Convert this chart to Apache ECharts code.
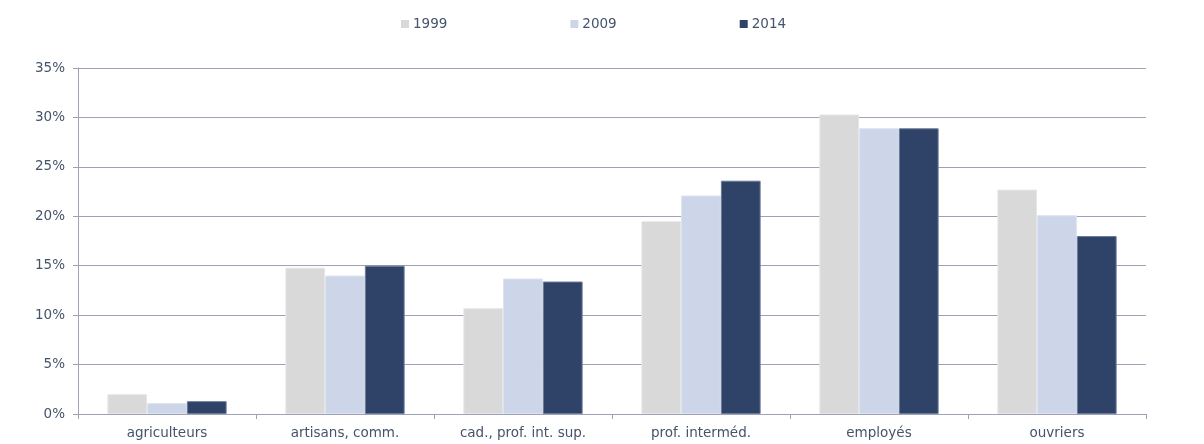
<!DOCTYPE html>
<html>
<head>
<meta charset="utf-8">
<script src="https://cdn.jsdelivr.net/npm/echarts@6/dist/echarts.min.js"></script>
<style>
  html, body { margin: 0; padding: 0; background: #fff; }
  #chart { width: 1204px; height: 444px; }
</style>
</head>
<body>
<div id="chart"></div>
<script>
const categories = ['agriculteurs', 'artisans, comm.', 'cad., prof. int. sup.', 'prof. interméd.', 'employés', 'ouvriers']
const data1999 = [2.0, 14.8, 10.7, 19.5, 30.3, 22.7]
const data2009 = [1.1, 14.0, 13.7, 22.1, 28.9, 20.1]
const data2014 = [1.3, 15.0, 13.4, 23.6, 28.9, 18.0]
const yTicks = [0, 5, 10, 15, 20, 25, 30, 35]

const textColor = '#44546a'
const lineColor = '#9ea2b6'

const chart = echarts.init(document.getElementById('chart'))

function bar(name, data, color, border) {
  return {
    name: name,
    type: 'bar',
    data: data,
    barGap: '0%',
    barCategoryGap: '33%',
    itemStyle: {
      color: color,
      borderColor: border,
      borderWidth: 1
    },
    animation: false
  }
}

chart.setOption({
  textStyle: {
    fontFamily: 'DejaVu Sans, Verdana, sans-serif'
  },
  legend: {
    top: 12,
    left: 396,
    itemWidth: 8,
    itemHeight: 8,
    itemGap: 123,
    icon: 'rect',
    itemStyle: {
      borderWidth: 0
    },
    textStyle: {
      color: textColor,
      fontSize: 13.5,
      padding: [0, 0, 0, -1]
    },
    data: ['1999', '2009', '2014']
  },
  grid: {
    left: 78,
    right: 58,
    top: 68,
    bottom: 30
  },
  xAxis: {
    type: 'category',
    data: categories,
    axisLine: {
      lineStyle: { color: lineColor }
    },
    axisTick: {
      show: true,
      length: 5,
      lineStyle: { color: lineColor }
    },
    axisLabel: {
      color: textColor,
      fontSize: 13.5,
      margin: 12
    }
  },
  yAxis: {
    type: 'value',
    min: yTicks[0],
    max: yTicks[yTicks.length - 1],
    interval: 5,
    axisLine: {
      show: true,
      lineStyle: { color: lineColor }
    },
    axisTick: {
      show: true,
      length: 5,
      lineStyle: { color: lineColor }
    },
    splitLine: {
      lineStyle: { color: lineColor }
    },
    axisLabel: {
      color: textColor,
      fontSize: 13.5,
      margin: 13,
      formatter: '{value}%'
    }
  },
  series: [
    bar('1999', data1999, '#d9d9d9', '#e6e6e6'),
    bar('2009', data2009, '#cdd6e9', '#dbe2f0'),
    bar('2014', data2014, '#2f4368', '#6a7a98')
  ]
})
</script>
</body>
</html>
